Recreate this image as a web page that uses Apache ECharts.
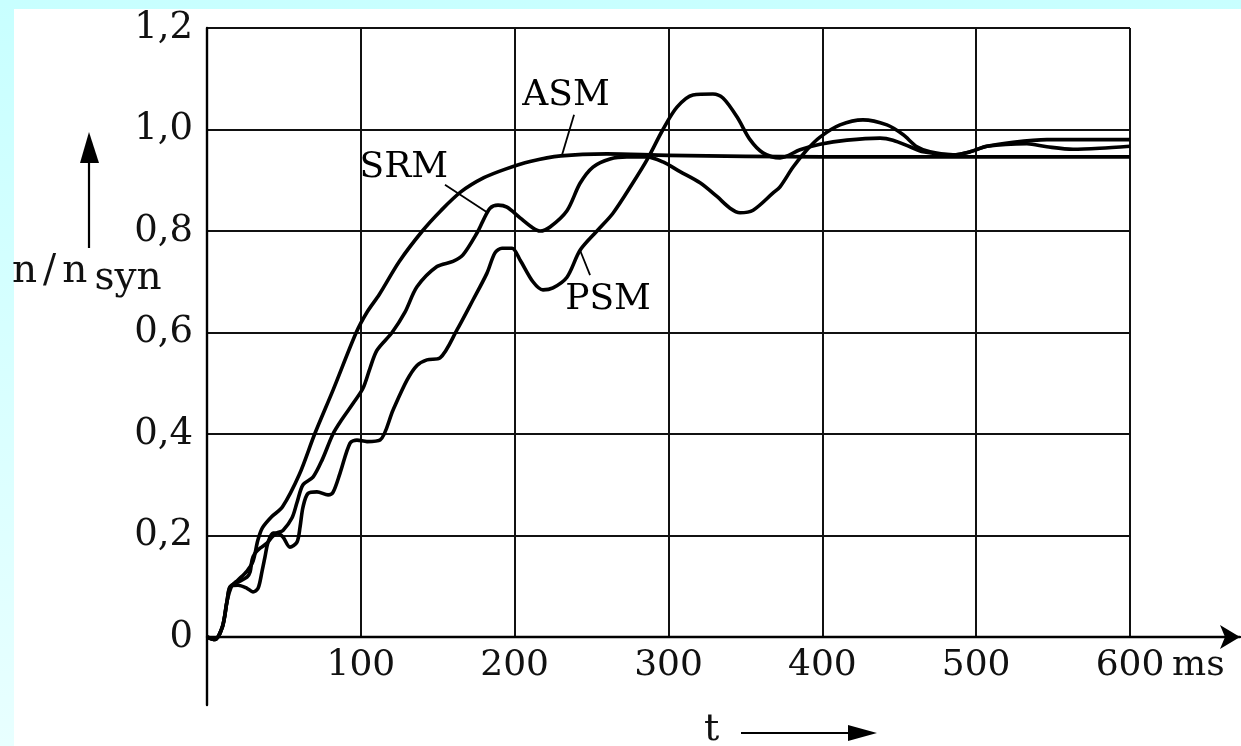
<!DOCTYPE html>
<html>
<head>
<meta charset="utf-8">
<script src="https://cdn.jsdelivr.net/npm/echarts@6/dist/echarts.min.js"></script>
<style>
  html, body { margin: 0; padding: 0; }
  body { width: 1241px; height: 746px; background: linear-gradient(180deg, #c8ffff 0%, #e8ffff 100%); position: relative; overflow: hidden; }
  #paper { position: absolute; left: 14px; top: 9px; width: 1227px; height: 737px; background: #fff; }
  #main { position: absolute; left: 0; top: 0; width: 1241px; height: 746px; }
</style>
</head>
<body>
<div id="paper"></div>
<div id="main"></div>
<script>
// zeit in ms, drehzahl n/nsyn
var asmT = [0,5,10,13,16,20,26,30,33,36,42,49,60,70,82,97,104,112,125,140,152,165,180,194,210,230,260,300,400,500,600];
var asmV = [0,-0.005,0.02,0.07,0.1,0.112,0.13,0.15,0.19,0.215,0.237,0.256,0.32,0.40,0.487,0.6,0.64,0.675,0.74,0.80,0.84,0.877,0.905,0.922,0.937,0.948,0.952,0.949,0.946,0.946,0.946];

var srmT = [0,5,10,13,15,20,26,28,29.3,31.2,34.5,39,42.3,45.5,49.4,55.3,58.5,62.4,68.9,75,81.9,88,94.9,101.4,106,110.5,120.3,128.7,136.5,149.5,159.9,166.4,175.5,179.4,184,189.2,195,203.5,211.9,216.5,223,234,242.5,250.9,262,273,286,296.4,307.5,320.5,331.5,340,346.5,355,368,372.5,381,390,398.5,411.5,426.4,442,452.4,461.5,470,485,496,507,524,546,575,600];
var srmV = [0,-0.005,0.02,0.07,0.099,0.108,0.118,0.128,0.152,0.165,0.175,0.185,0.197,0.205,0.21,0.235,0.265,0.30,0.315,0.35,0.40,0.43,0.46,0.49,0.53,0.565,0.60,0.64,0.69,0.73,0.74,0.753,0.796,0.82,0.845,0.851,0.847,0.826,0.806,0.80,0.808,0.84,0.894,0.926,0.942,0.946,0.946,0.936,0.917,0.895,0.868,0.845,0.836,0.841,0.875,0.887,0.926,0.96,0.985,1.009,1.019,1.009,0.99,0.966,0.956,0.95,0.956,0.967,0.975,0.98,0.98,0.98];

var psmT = [0,5,10,13,15,20.2,26,29.9,33.2,35.8,37.7,39.7,42.9,45.5,49.4,53.9,58.5,60.5,62.4,65.7,71.5,78.7,81.9,86.5,93,97.5,104,112.5,120.9,130,136.5,143,151.5,162.5,172.9,182,187.2,191.8,198.3,203.5,211.9,218.4,224.9,234,242.5,253.5,263.9,276.9,286,296.4,305.5,315.9,328.9,335.4,344.5,353,361.4,372.5,385.5,398.5,416,437.5,445.9,457,465.5,485,496,507,533,546,563,580.5,600];
var psmV = [0,-0.005,0.02,0.07,0.099,0.102,0.096,0.089,0.096,0.13,0.158,0.187,0.205,0.205,0.197,0.177,0.187,0.217,0.256,0.283,0.286,0.28,0.285,0.323,0.382,0.388,0.385,0.388,0.447,0.506,0.535,0.546,0.55,0.605,0.664,0.717,0.757,0.766,0.766,0.743,0.70,0.684,0.688,0.709,0.762,0.80,0.835,0.895,0.94,1.0,1.044,1.068,1.07,1.062,1.025,0.98,0.954,0.944,0.96,0.971,0.979,0.983,0.979,0.966,0.956,0.95,0.956,0.967,0.972,0.966,0.961,0.963,0.967];

// beschriftung der kurven: textposition, hinweislinie (start, ende)
var asmLabel = [233.4, 1.066], asmLead = [[238.6, 1.029], [230.8, 0.95]];
var srmLabel = [128, 0.925], srmLead = [[154.7, 0.891], [182, 0.837]];
var psmLabel = [260.7, 0.665], psmLead = [[249, 0.713], [242.5, 0.762]];

var xTicks = [0, 100, 200, 300, 400, 500, 600];
var yTicks = [0, 0.2, 0.4, 0.6, 0.8, 1.0, 1.2];

var FONT = 'DejaVu Serif';

function pairs(t, v) {
  var out = [];
  for (var i = 0; i < t.length; i++) out.push([t[i], v[i]]);
  return out;
}

function curve(name, t, v, labelPos, lead) {
  return {
    name: name,
    type: 'line',
    xAxisIndex: 0,
    yAxisIndex: 0,
    data: pairs(t, v),
    showSymbol: false,
    smooth: 0.3,
    clip: false,
    lineStyle: { color: '#000', width: 3.6 },
    markLine: {
      silent: true,
      symbol: ['none', 'none'],
      label: { show: false },
      lineStyle: { color: '#000', width: 1.8, type: 'solid' },
      data: [[{ coord: lead[0] }, { coord: lead[1] }]]
    },
    markPoint: {
      silent: true,
      symbol: 'circle',
      symbolSize: 0,
      label: { show: true, position: 'inside', formatter: '{b}', color: '#000', fontFamily: FONT, fontSize: 36 },
      data: [{ name: name, coord: labelPos }]
    }
  };
}

var chart = echarts.init(document.getElementById('main'));
var gridCol = '#111';

var option = {
  animation: false,
  backgroundColor: 'transparent',
  grid: [
    { left: 207, top: 28, right: 111, bottom: 109 },
    { left: 207, top: 28, right: 1, bottom: 41 }
  ],
  xAxis: [{
    gridIndex: 0, type: 'value', min: xTicks[0], max: xTicks[xTicks.length - 1], interval: 100,
    axisLine: { show: false }, axisTick: { show: false },
    splitLine: { show: true, lineStyle: { color: gridCol, width: 2 } },
    axisLabel: {
      color: '#111', fontFamily: FONT, fontSize: 36, margin: 11,
      formatter: function (v) { return v === 0 ? '' : String(v); }
    },
    name: 'ms', nameLocation: 'end', nameGap: 42,
    nameTextStyle: { color: '#111', fontFamily: FONT, fontSize: 36, verticalAlign: 'top', padding: [11, 0, 0, 0] }
  }, {
    gridIndex: 1, type: 'value', min: 0, max: 671.5,
    axisLine: { show: true, onZero: true, symbol: ['none', 'arrow'], symbolSize: [18, 20], lineStyle: { color: '#000', width: 2.4 } },
    axisTick: { show: false }, axisLabel: { show: false }, splitLine: { show: false }
  }],
  yAxis: [{
    gridIndex: 0, type: 'value', min: yTicks[0], max: yTicks[yTicks.length - 1], interval: 0.2,
    axisLine: { show: false }, axisTick: { show: false },
    splitLine: { show: true, lineStyle: { color: gridCol, width: 2 } },
    axisLabel: {
      color: '#111', fontFamily: FONT, fontSize: 37, margin: 14,
      formatter: function (v) { return v === 0 ? '0' : v.toFixed(1).replace('.', ','); }
    }
  }, {
    gridIndex: 1, type: 'value', min: -0.134, max: 1.2,
    axisLine: { show: true, onZero: true, lineStyle: { color: '#000', width: 2.4 } },
    axisTick: { show: false }, axisLabel: { show: false }, splitLine: { show: false }
  }],
  graphic: [
    // pfeil an der y-achse
    { type: 'line', shape: { x1: 89, y1: 248, x2: 89, y2: 160 }, style: { stroke: '#000', lineWidth: 2.2 } },
    { type: 'polygon', shape: { points: [[89, 132], [80, 163], [99, 163]] }, style: { fill: '#000' } },
    {
      type: 'text', left: 12, top: 252,
      style: {
        text: '{a|n}{s|/}{a|n}{b|syn}',
        rich: {
          a: { fontFamily: FONT, fontSize: 39, fill: '#111', padding: [0, 0, 7, 0] },
          s: { fontFamily: FONT, fontSize: 39, fill: '#111', padding: [0, 6, 7, 6] },
          b: { fontFamily: FONT, fontSize: 39, fill: '#111', padding: [8, 0, 0, 7] }
        }
      }
    },
    // t mit pfeil unter der x-achse
    { type: 'text', left: 704, top: 711, style: { text: 't', fontFamily: FONT, fontSize: 38, fill: '#111' } },
    { type: 'line', shape: { x1: 741, y1: 733, x2: 852, y2: 733 }, style: { stroke: '#000', lineWidth: 2.2 } },
    { type: 'polygon', shape: { points: [[877, 733], [848, 725], [848, 741]] }, style: { fill: '#000' } }
  ],
  series: [
    curve('ASM', asmT, asmV, asmLabel, asmLead),
    curve('SRM', srmT, srmV, srmLabel, srmLead),
    curve('PSM', psmT, psmV, psmLabel, psmLead)
  ]
};

chart.setOption(option);
</script>
</body>
</html>
